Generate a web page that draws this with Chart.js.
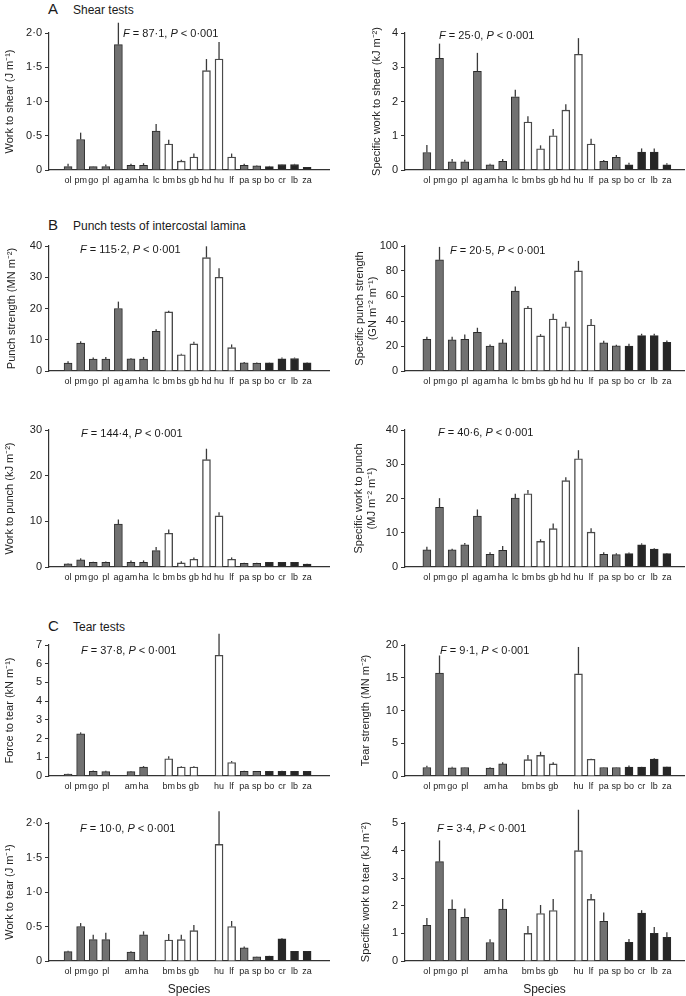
<!DOCTYPE html>
<html><head><meta charset="utf-8">
<script src="https://cdn.jsdelivr.net/npm/chart.js@4.4.1/dist/chart.umd.min.js"></script>
<style>
html,body{margin:0;padding:0;background:#fff;}
body{width:686px;height:996px;position:relative;overflow:hidden;font-family:"Liberation Sans",Arial,sans-serif;color:#1a1a1a;}
canvas{position:absolute;}
.hdr{position:absolute;display:flex;align-items:baseline;white-space:nowrap;}
.hdr .l{font-size:15px;line-height:18px;width:25px;}
.hdr .t{font-size:12px;line-height:18px;}
.ft{position:absolute;font-size:11px;line-height:13px;white-space:nowrap;}
</style></head><body>
<div class="hdr" style="left:48px;top:0px"><span class="l">A</span><span class="t">Shear tests</span></div>
<div class="hdr" style="left:48px;top:216px"><span class="l">B</span><span class="t">Punch tests of intercostal lamina</span></div>
<div class="hdr" style="left:48px;top:617px"><span class="l">C</span><span class="t">Tear tests</span></div>
<script>
// ---------- DATA ----------
const species = ['ol','pm','go','pl','ag','am','ha','lc','bm','bs','gb','hd','hu','lf','pa','sp','bo','cr','lb','za'];
const tearLabels = ['ol','pm','go','pl','','am','ha','','bm','bs','gb','','hu','lf','pa','sp','bo','cr','lb','za'];
const barGroup = ['g','g','g','g','g','g','g','g','w','w','w','w','w','w','g','g','k','k','k','k'];

const workShear   = [0.05,0.445,0.05,0.05,1.83,0.07,0.07,0.57,0.38,0.13,0.19,1.45,1.62,0.19,0.07,0.06,0.05,0.08,0.08,0.04];
const workShearSE = [0.04,0.10,0.005,0.03,0.32,0.02,0.03,0.10,0.06,0.02,0.05,0.17,0.25,0.05,0.02,0.005,0.01,0.005,0.01,0.005];

const specWorkShear   = [0.51,3.26,0.24,0.24,2.88,0.15,0.25,2.14,1.40,0.62,1.00,1.75,3.38,0.76,0.25,0.37,0.15,0.52,0.52,0.15];
const specWorkShearSE = [0.22,0.43,0.08,0.06,0.54,0.03,0.07,0.20,0.17,0.10,0.20,0.17,0.47,0.15,0.04,0.07,0.06,0.11,0.11,0.05];

const punchStrength   = [2.5,8.9,3.8,3.8,20.0,3.9,3.8,12.7,18.9,5.2,8.7,36.3,30.0,7.5,2.6,2.5,2.6,3.9,4.0,2.6];
const punchStrengthSE = [0.6,0.6,0.5,0.7,2.2,0.3,0.7,0.7,0.4,0.3,0.7,3.6,2.9,1.0,0.3,0.2,0.1,0.4,0.3,0.1];

const specPunchStrength   = [25.4,88.9,24.9,25.4,31.0,19.9,22.5,63.9,50.4,28.1,41.6,35.4,80.1,36.8,22.5,20.1,19.9,28.3,28.3,23.0];
const specPunchStrengthSE = [2.0,10.4,2.5,3.9,3.6,1.4,2.9,3.7,1.7,1.4,4.2,4.1,8.0,4.8,1.7,1.0,1.9,1.5,1.5,1.5];

const workPunch   = [0.7,1.55,1.0,1.0,9.4,1.0,1.0,3.6,7.4,0.9,1.7,23.5,11.2,1.7,0.8,0.8,1.0,1.0,1.0,0.65];
const workPunchSE = [0.1,0.35,0.15,0.2,1.0,0.4,0.45,0.8,0.8,0.35,0.4,2.4,0.8,0.4,0.15,0.15,0.1,0.1,0.1,0.05];

const specWorkPunch   = [5.0,17.4,5.0,6.5,14.9,3.7,4.9,20.1,21.4,7.5,11.2,25.2,31.6,10.2,3.7,3.6,3.9,6.5,5.2,3.9];
const specWorkPunchSE = [0.9,2.7,0.3,0.5,1.9,0.6,1.2,1.3,1.1,0.6,1.5,1.0,2.5,1.1,0.6,0.4,0.3,0.4,0.3,0.2];

const forceTear   = [0.1,2.25,0.25,0.23,null,0.23,0.47,null,0.92,0.48,0.48,null,6.45,0.72,0.25,0.25,0.25,0.25,0.25,0.25];
const forceTearSE = [0.02,0.08,0.05,0.05,null,0.04,0.06,null,0.13,0.04,0.04,null,1.15,0.08,0.03,0.02,0.02,0.03,0.02,0.02];

const tearStrength   = [1.3,15.7,1.25,1.3,null,1.2,1.85,null,2.5,3.15,1.85,null,15.6,2.55,1.3,1.3,1.35,1.35,2.6,1.4];
const tearStrengthSE = [0.25,2.7,0.15,0.05,null,0.15,0.25,null,0.7,0.55,0.25,null,4.1,0.1,0.05,0.05,0.25,0.05,0.1,0.05];

const workTear   = [0.135,0.50,0.31,0.31,null,0.13,0.38,null,0.305,0.31,0.44,null,1.69,0.50,0.19,0.06,0.07,0.32,0.14,0.14];
const workTearSE = [0.015,0.05,0.07,0.10,null,0.01,0.05,null,0.085,0.07,0.08,null,0.48,0.08,0.02,0.005,0.005,0.01,0.005,0.005];

const specWorkTear   = [1.29,3.6,1.88,1.58,null,0.67,1.88,null,1.0,1.72,1.83,null,4.0,2.23,1.44,null,0.68,1.74,1.0,0.86];
const specWorkTearSE = [0.27,0.77,0.35,0.32,null,0.12,0.37,null,0.27,0.31,0.42,null,1.48,0.2,0.32,null,0.12,0.1,0.23,0.18];

// ---------- STYLE / LAYOUT ----------
const GRAY='#717171', BLACK='#262626', WHITE='#ffffff';
const FONT = '"Liberation Sans", Arial, sans-serif';
const dot1 = v => v===0 ? '0' : v.toFixed(1).replace('.','\u00B7');
const intf = v => String(v);

const panels = [
 {col:0, top:33,  zero:170, max:2,   step:0.5, fmt:dot1, title:'Work to shear (J m\u207B\u00B9)', tpad:3.4, vals:workShear, se:workShearSE, labels:species, f:['87\u00B71'], fx:123, fy:33},
 {col:1, top:33,  zero:170, max:4,   step:1,   fmt:intf, title:'Specific work to shear (kJ m\u207B\u00B2)', tpad:27.4, vals:specWorkShear, se:specWorkShearSE, labels:species, f:['25\u00B70'], fx:439, fy:35},
 {col:0, top:246, zero:371, max:40,  step:10,  fmt:intf, title:'Punch strength (MN m\u207B\u00B2)', tpad:5, vals:punchStrength, se:punchStrengthSE, labels:species, f:['115\u00B72'], fx:80, fy:249},
 {col:1, top:246, zero:371, max:100, step:20,  fmt:intf, title:['Specific punch strength','(GN m\u207B\u00B2 m\u207B\u00B9)'], tpad:10.4, vals:specPunchStrength, se:specPunchStrengthSE, labels:species, f:['20\u00B75'], fx:450, fy:250},
 {col:0, top:430, zero:567, max:30,  step:10,  fmt:intf, title:'Work to punch (kJ m\u207B\u00B2)', tpad:3.4, vals:workPunch, se:workPunchSE, labels:species, f:['144\u00B74'], fx:81, fy:433},
 {col:1, top:430, zero:567, max:40,  step:10,  fmt:intf, title:['Specific work to punch','(MJ m\u207B\u00B2 m\u207B\u00B9)'], tpad:9.5, vals:specWorkPunch, se:specWorkPunchSE, labels:species, f:['40\u00B76'], fx:438, fy:432},
 {col:0, top:645, zero:776, max:7,   step:1,   fmt:intf, title:'Force to tear (kN m\u207B\u00B9)', tpad:3.4, vals:forceTear, se:forceTearSE, labels:tearLabels, f:['37\u00B78'], fx:81, fy:650},
 {col:1, top:645, zero:776, max:20,  step:5,   fmt:intf, title:'Tear strength (MN m\u207B\u00B2)', tpad:16.4, vals:tearStrength, se:tearStrengthSE, labels:tearLabels, f:['9\u00B71'], fx:440, fy:650},
 {col:0, top:823, zero:961, max:2,   step:0.5, fmt:dot1, title:'Work to tear (J m\u207B\u00B9)', tpad:3.4, vals:workTear, se:workTearSE, labels:tearLabels, f:['10\u00B70'], fx:80, fy:828, bottom:true},
 {col:1, top:823, zero:961, max:5,   step:1,   fmt:intf, title:'Specific work to tear (kJ m\u207B\u00B2)', tpad:16.4, vals:specWorkTear, se:specWorkTearSE, labels:tearLabels, f:['3\u00B74'], fx:437, fy:828, bottom:true}
];

const errPlugin = {
  id:'errbars',
  afterDatasetsDraw(chart, args, opts){
    const ctx = chart.ctx, ys = chart.scales.y;
    const meta = chart.getDatasetMeta(0);
    const ds = chart.data.datasets[0];
    ctx.save();
    ctx.strokeStyle = '#3a3a3a'; ctx.lineWidth = 1.3;
    meta.data.forEach((bar, i) => {
      const v = ds.data[i].y, e = opts.se[i];
      if (v == null || e == null || e <= 0) return;
      const y0 = ys.getPixelForValue(v), y1 = ys.getPixelForValue(v + e);
      ctx.beginPath(); ctx.moveTo(bar.x, y0); ctx.lineTo(bar.x, y1); ctx.stroke();
    });
    ctx.restore();
  }
};

panels.forEach(p => {
  const left = p.col===0 ? 0 : 343;
  const W = p.col===0 ? 336 : 343;
  const yW = p.col===0 ? 49 : 62;
  const padR = p.col===0 ? 7 : 2;
  const xMin = p.col===0 ? -0.985 : -1.206;
  const xMax = p.col===0 ? 20.21 : 19.83;
  const padTop = 16;
  const xH = p.bottom ? 40 : 20;
  const H = padTop + (p.zero - p.top) + xH;
  const cv = document.createElement('canvas');
  cv.width = W; cv.height = H;
  cv.style.left = left + 'px'; cv.style.top = (p.top - padTop) + 'px';
  cv.style.width = W + 'px'; cv.style.height = H + 'px';
  document.body.appendChild(cv);

  const ft = document.createElement('div');
  ft.className = 'ft';
  ft.style.left = p.fx + 'px'; ft.style.top = (p.fy - 6.5) + 'px';
  ft.innerHTML = '<i>F</i> = ' + p.f[0] + ', <i>P</i> &lt; 0\u00B7001';
  document.body.appendChild(ft);

  const data = p.vals.map((v,i) => ({x:i, y:v}));
  new Chart(cv, {
    type:'bar',
    data:{datasets:[{
      data,
      backgroundColor: barGroup.map(g => g==='g'?GRAY:(g==='k'?BLACK:WHITE)),
      borderColor: barGroup.map(g => g==='w'?'#4a4a4a':'#2a2a2a'),
      borderWidth: barGroup.map(g => g==='w'?1.4:1),
      barThickness: 8,
      borderSkipped: 'bottom'
    }]},
    options:{
      responsive:false, animation:false, devicePixelRatio:1,
      layout:{padding:{top:padTop, right:padR, left:0, bottom:0}},
      plugins:{legend:{display:false}, tooltip:{enabled:false}, errbars:{se:p.se}},
      scales:{
        x:{
          type:'linear', min:xMin, max:xMax,
          afterFit: s => { s.height = xH; },
          grid:{display:false, drawTicks:false},
          border:{display:true, color:'#333', width:1.2},
          ticks:{stepSize:1, autoSkip:false, maxRotation:0, minRotation:0, includeBounds:false, padding:5,
                 color:'#222', font:{family:FONT, size:9},
                 callback: v => Number.isInteger(v) && v>=0 && v<p.labels.length ? p.labels[v] : ''},
          title:{display:!!p.bottom, text:'Species', color:'#222', font:{family:FONT, size:12}, padding:{top:0,bottom:3.8}}
        },
        y:{
          type:'linear', min:0, max:p.max,
          afterFit: s => { s.width = yW; },
          grid:{display:true, drawOnChartArea:false, drawTicks:true, tickLength:4, color:'#333', lineWidth:1},
          border:{display:true, color:'#333', width:1.2},
          ticks:{stepSize:p.step, padding:3, color:'#222', font:{family:FONT, size:11}, callback: v => p.fmt(v)},
          title:{display:true, text:p.title, color:'#222', font:{family:FONT, size:11}, padding:{top:p.tpad, bottom:0}}
        }
      }
    },
    plugins:[errPlugin]
  });
});
</script>
</body></html>
